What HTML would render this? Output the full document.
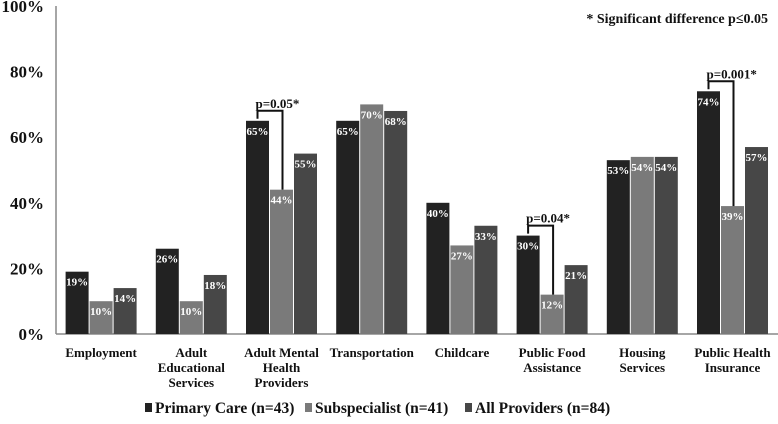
<!DOCTYPE html>
<html><head><meta charset="utf-8"><style>
body{margin:0;background:#fff;}
svg text{font-family:"Liberation Serif",serif;font-weight:bold;}
</style></head><body>
<svg id="chart" width="778" height="419">
<g id="g"></g>
</svg>
<script>
const categories=[["Employment"],["Adult","Educational","Services"],["Adult Mental","Health","Providers"],["Transportation"],["Childcare"],["Public Food","Assistance"],["Housing","Services"],["Public Health","Insurance"]];
const primaryCare=[19,26,65,65,40,30,53,74];
const subspecialist=[10,10,44,70,27,12,54,39];
const allProviders=[14,18,55,68,33,21,54,57];
const seriesNames=["Primary Care (n=43)","Subspecialist (n=41)","All Providers (n=84)"];
const colors=["#222222","#7a7a7a","#474747"];
const yTicks=[0,20,40,60,80,100];
const sigTests=[{cat:2,label:"p=0.05*"},{cat:5,label:"p=0.04*"},{cat:7,label:"p=0.001*"}];
const NS="http://www.w3.org/2000/svg";
const g=document.getElementById('g');
const x0=56,y0=334,yTop=6,pitch=90.2,bw=23;
const y=v=>y0-(y0-yTop)*v/100;
const gx=i=>x0+pitch*i+pitch/2;
function mk(t,a,p){const e=document.createElementNS(NS,t);for(const k in a)e.setAttribute(k,a[k]);(p||g).appendChild(e);return e;}
yTicks.forEach(t=>{const e=mk('text',{x:44,y:y(t)+6,'text-anchor':'end','font-size':17,fill:'#111'});e.textContent=t+'%';

});
const ax=mk('line',{x1:x0,y1:yTop,x2:x0,y2:y0,stroke:'#888','stroke-width':1.5});


const xa=mk('line',{x1:x0,y1:y0,x2:778,y2:y0,stroke:'#888','stroke-width':1.5});


const series=[primaryCare,subspecialist,allProviders];
categories.forEach((c,i)=>{
 series.forEach((s,j)=>{
  const bx=gx(i)-1.5*bw-1+j*(bw+1);
  const r=mk('rect',{x:bx,y:y(s[i]),width:bw,height:y0-y(s[i]),fill:colors[j]});
  
  
  const t=mk('text',{x:bx+bw/2,y:y(s[i])+14,'text-anchor':'middle','font-size':11,fill:'#fff'});
  t.textContent=s[i]+'%';
  
  
 });
 c.forEach((line,k)=>{const t=mk('text',{x:gx(i),y:357+k*15,'text-anchor':'middle','font-size':13,fill:'#111'});t.textContent=line;
 
 });
});
sigTests.forEach(s=>{
 const i=s.cat;
 const x1=gx(i)-bw-1,x2=gx(i)+1;
 const top=y(primaryCare[i])-10;
 const p=mk('path',{d:`M${x1} ${top+8}V${top}H${x2}V${y(subspecialist[i])}`,fill:'none',stroke:'#111','stroke-width':2});
 
 
 const t=mk('text',{x:x1-2,y:top-3,'font-size':13,fill:'#111'});t.textContent=s.label;
 
 
});
const note=mk('text',{x:768,y:23,'text-anchor':'end','font-size':14,fill:'#111'});note.textContent='* Significant difference p≤0.05';


const lx=[145,305,465];
seriesNames.forEach((n,j)=>{
 const r=mk('rect',{x:lx[j],y:403,width:7,height:9,fill:colors[j]});
 
 
 const t=mk('text',{x:lx[j]+10,y:413,'font-size':15.5,fill:'#111'});t.textContent=n;
 
 
});
</script>
</body></html>
